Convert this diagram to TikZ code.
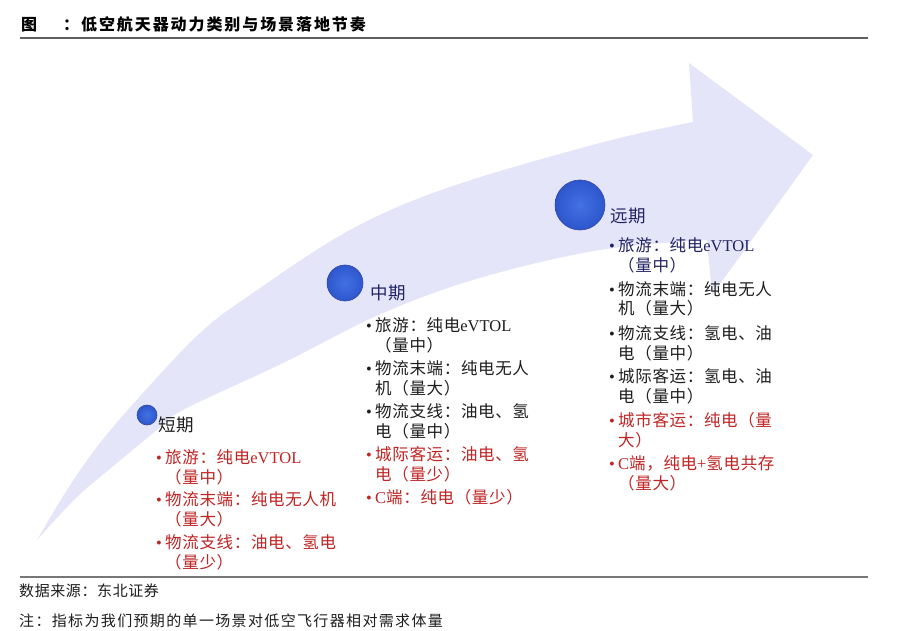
\documentclass[tikz,border=0pt]{standalone}
\usepackage{fontspec}
\setmainfont{Noto Sans CJK SC}
\newfontfamily\lat{Liberation Serif}
\definecolor{arrowfill}{RGB}{229,229,249}
\definecolor{redtxt}{RGB}{192,36,36}
\definecolor{navy}{RGB}{35,35,100}
\definecolor{blacktxt}{RGB}{30,30,30}
\definecolor{rulegray}{RGB}{95,95,95}
\definecolor{dotin}{RGB}{66,114,228}
\definecolor{dotout}{RGB}{46,86,204}
\definecolor{dotedge}{RGB}{50,70,165}
\newcommand\itemfnt{\fontsize{16.5}{20}\selectfont\addfontfeature{LetterSpace=4}}
\newcommand\lblfnt{\fontsize{17.5}{20}\selectfont\addfontfeature{LetterSpace=6}}
\newcommand\titlefnt{\fontsize{16}{18}\selectfont\bfseries\addfontfeature{LetterSpace=12}}
\newcommand\srcfnt{\fontsize{15}{18}\selectfont\addfontfeature{LetterSpace=4}}
\newcommand\notefnt{\fontsize{15}{18}\selectfont\addfontfeature{LetterSpace=9}}
\newcommand\bul{\makebox[9pt][l]{\lat •}}
\begin{document}
\begin{tikzpicture}[x=1pt,y=-1pt,
  txt/.style={anchor=base west, inner sep=0pt, font=\itemfnt, text=blacktxt},
  rtxt/.style={txt, text=redtxt},
  ntxt/.style={txt, text=navy},
  lbl/.style={anchor=base west, inner sep=0pt, font=\lblfnt, text=blacktxt},
  dot/.style={circle, inner sep=0pt, draw=dotedge, line width=0.6pt, inner color=dotin, outer color=dotout}]
\useasboundingbox (0,0) rectangle (900,631);
\fill[white] (0,0) rectangle (900,631);
% arrow
\fill[arrowfill] plot[smooth, tension=0.6] coordinates {(37,540) (67,490) (100,443) (143,393) (200,333) (250,295) (350,230) (450,187) (600,143) (693,122)}
  -- (689,63) -- (813,155) -- (712,295) -- (707,240)
  -- plot[smooth, tension=0.6] coordinates {(707,240) (600,250) (483,277) (383,313) (283,363) (183,410) (157,430) (117,463) (77,497) (37,540)} -- cycle;
% title and rules
\node[anchor=base west, inner sep=0pt, font=\titlefnt, text=black] (title) at (21,31) {图\hspace{26pt}：低空航天器动力类别与场景落地节奏};
\draw[rulegray, line width=1.2pt] (20,38) -- (868,38);
\draw[rulegray!85, line width=2.4pt] (20,577) -- (868,577);
\node[anchor=base west, inner sep=0pt, font=\srcfnt, text=blacktxt] (src) at (19,596) {数据来源：东北证券};
\node[anchor=base west, inner sep=0pt, font=\notefnt, text=blacktxt] (note) at (19,626) {注：指标为我们预期的单一场景对低空飞行器相对需求体量};
% dots
\node[dot, minimum size=20pt] (d1) at (147,415) {};
\node[dot, minimum size=36pt] (d2) at (345,283) {};
\node[dot, minimum size=50pt] (d3) at (580,205) {};
% short term
\node[lbl] (sL) at (158,431) {短期};
\node[rtxt] (s1a) at (156,463) {\bul 旅游：纯电{\lat eVTOL}};
\node[rtxt] (s1b) at (165,483) {（量中）};
\node[rtxt] (s2a) at (156,505) {\bul 物流末端：纯电无人机};
\node[rtxt] (s2b) at (165,525) {（量大）};
\node[rtxt] (s3a) at (156,548) {\bul 物流支线：油电、氢电};
\node[rtxt] (s3b) at (165,568) {（量少）};
% mid term
\node[lbl, text=navy] (mL) at (370,299) {中期};
\node[txt] (m1a) at (366,331) {\bul 旅游：纯电{\lat eVTOL}};
\node[txt] (m1b) at (375,351) {（量中）};
\node[txt] (m2a) at (366,374) {\bul 物流末端：纯电无人};
\node[txt] (m2b) at (375,394) {机（量大）};
\node[txt] (m3a) at (366,417) {\bul 物流支线：油电、氢};
\node[txt] (m3b) at (375,437) {电（量中）};
\node[rtxt] (m4a) at (366,460) {\bul 城际客运：油电、氢};
\node[rtxt] (m4b) at (375,480) {电（量少）};
\node[rtxt] (m5a) at (366,503) {\bul {\lat C}端：纯电（量少）};
% long term
\node[lbl, text=navy] (fL) at (610,223) {远期};
\node[ntxt] (f1a) at (609,252) {\bul 旅游：纯电{\lat eVTOL}};
\node[ntxt] (f1b) at (618,272) {（量中）};
\node[txt] (f2a) at (609,295) {\bul 物流末端：纯电无人};
\node[txt] (f2b) at (618,315) {机（量大）};
\node[txt] (f3a) at (609,339) {\bul 物流支线：氢电、油};
\node[txt] (f3b) at (618,359) {电（量中）};
\node[txt] (f4a) at (609,382) {\bul 城际客运：氢电、油};
\node[txt] (f4b) at (618,402) {电（量中）};
\node[rtxt] (f5a) at (609,426) {\bul 城市客运：纯电（量};
\node[rtxt] (f5b) at (618,446) {大）};
\node[rtxt] (f6a) at (609,469) {\bul {\lat C}端，纯电{\lat +}氢电共存};
\node[rtxt] (f6b) at (618,489) {（量大）};
\end{tikzpicture}
\end{document}
